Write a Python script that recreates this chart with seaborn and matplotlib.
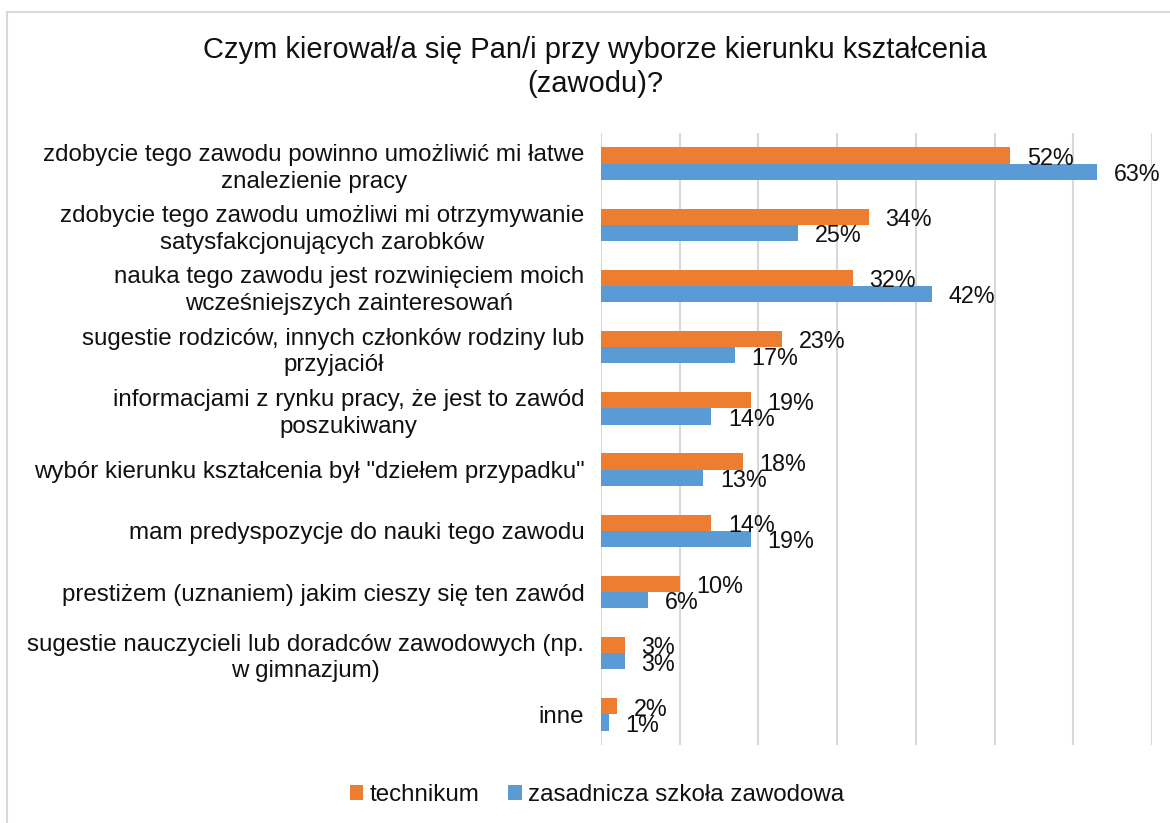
import matplotlib
matplotlib.use("Agg")
import matplotlib.pyplot as plt
import seaborn as sns
import pandas as pd
from matplotlib.patches import Rectangle

categories = [
    "zdobycie tego zawodu powinno umożliwić mi łatwe\nznalezienie pracy",
    "zdobycie tego zawodu umożliwi mi otrzymywanie\nsatysfakcjonujących zarobków",
    "nauka tego zawodu jest rozwinięciem moich\nwcześniejszych zainteresowań",
    "sugestie rodziców, innych członków rodziny lub\nprzyjaciół",
    "informacjami z rynku pracy, że jest to zawód\nposzukiwany",
    "wybór kierunku kształcenia był \"dziełem przypadku\"",
    "mam predyspozycje do nauki tego zawodu",
    "prestiżem (uznaniem) jakim cieszy się ten zawód",
    "sugestie nauczycieli lub doradców zawodowych (np.\nw gimnazjum)",
    "inne",
]
technikum = [52, 34, 32, 23, 19, 18, 14, 10, 3, 2]
zasadnicza = [63, 25, 42, 17, 14, 13, 19, 6, 3, 1]
series_names = ["technikum", "zasadnicza szkoła zawodowa"]
colors = ["#ED7D31", "#5B9BD5"]
title = "Czym kierował/a się Pan/i przy wyborze kierunku kształcenia\n(zawodu)?"

df = pd.DataFrame({
    "category": categories * 2,
    "value": technikum + zasadnicza,
    "series": [series_names[0]] * len(categories) + [series_names[1]] * len(categories),
})

sns.set_theme(style="white")
plt.rcParams["font.family"] = ["Liberation Sans", "DejaVu Sans"]

W, H = 1170, 823
fig = plt.figure(figsize=(W / 100, H / 100), dpi=100)
ax = fig.add_axes([601 / W, 1 - 745 / H, (1152 - 601) / W, (745 - 133) / H])

sns.barplot(data=df, x="value", y="category", hue="series", order=categories,
            hue_order=series_names, palette=colors, orient="h", width=0.53,
            saturation=1, ax=ax, legend=True, edgecolor="none")

ax.set_xlim(0, 70)
ax.set_xticks(range(0, 71, 10))
ax.set_xticklabels([])
ax.grid(axis="x", color="#D9D9D9", linewidth=1.5)
ax.grid(axis="y", visible=False)
ax.set_axisbelow(True)
for s in ax.spines.values():
    s.set_visible(False)
ax.set_xlabel("")
ax.set_ylabel("")
ax.tick_params(axis="y", length=0, pad=12, labelsize=17.4, labelcolor="#111111")
ax.tick_params(axis="x", length=0)
for lbl in ax.get_yticklabels():
    lbl.set_multialignment("center")
    lbl.set_linespacing(1.28)

for cont in ax.containers:
    for bar in cont:
        w = bar.get_width()
        yc = bar.get_y() + bar.get_height() / 2
        ax.annotate(f"{w:.0f}%", xy=(w, yc), xytext=(12, -2), textcoords="offset points",
                    ha="left", va="center", fontsize=16.8, color="#111111")

leg = ax.legend(loc="center", bbox_to_anchor=(597 / W, 1 - 795 / H),
                bbox_transform=fig.transFigure, ncol=2, frameon=False,
                fontsize=17.4, handlelength=0.55, handleheight=0.55,
                handletextpad=0.25, columnspacing=1.2)
for t in leg.get_texts():
    t.set_color("#111111")

fig.text(595 / W, 1 - 67 / H, title, ha="center", va="center", fontsize=21,
         color="#111111", linespacing=1.3)

fig.patches.append(Rectangle((7 / W, -0.1), 1.2, 1 - 12 / H + 0.1, transform=fig.transFigure,
                             fill=False, edgecolor="#D9D9D9", linewidth=1.5))

fig.savefig("out.png", dpi=100)
